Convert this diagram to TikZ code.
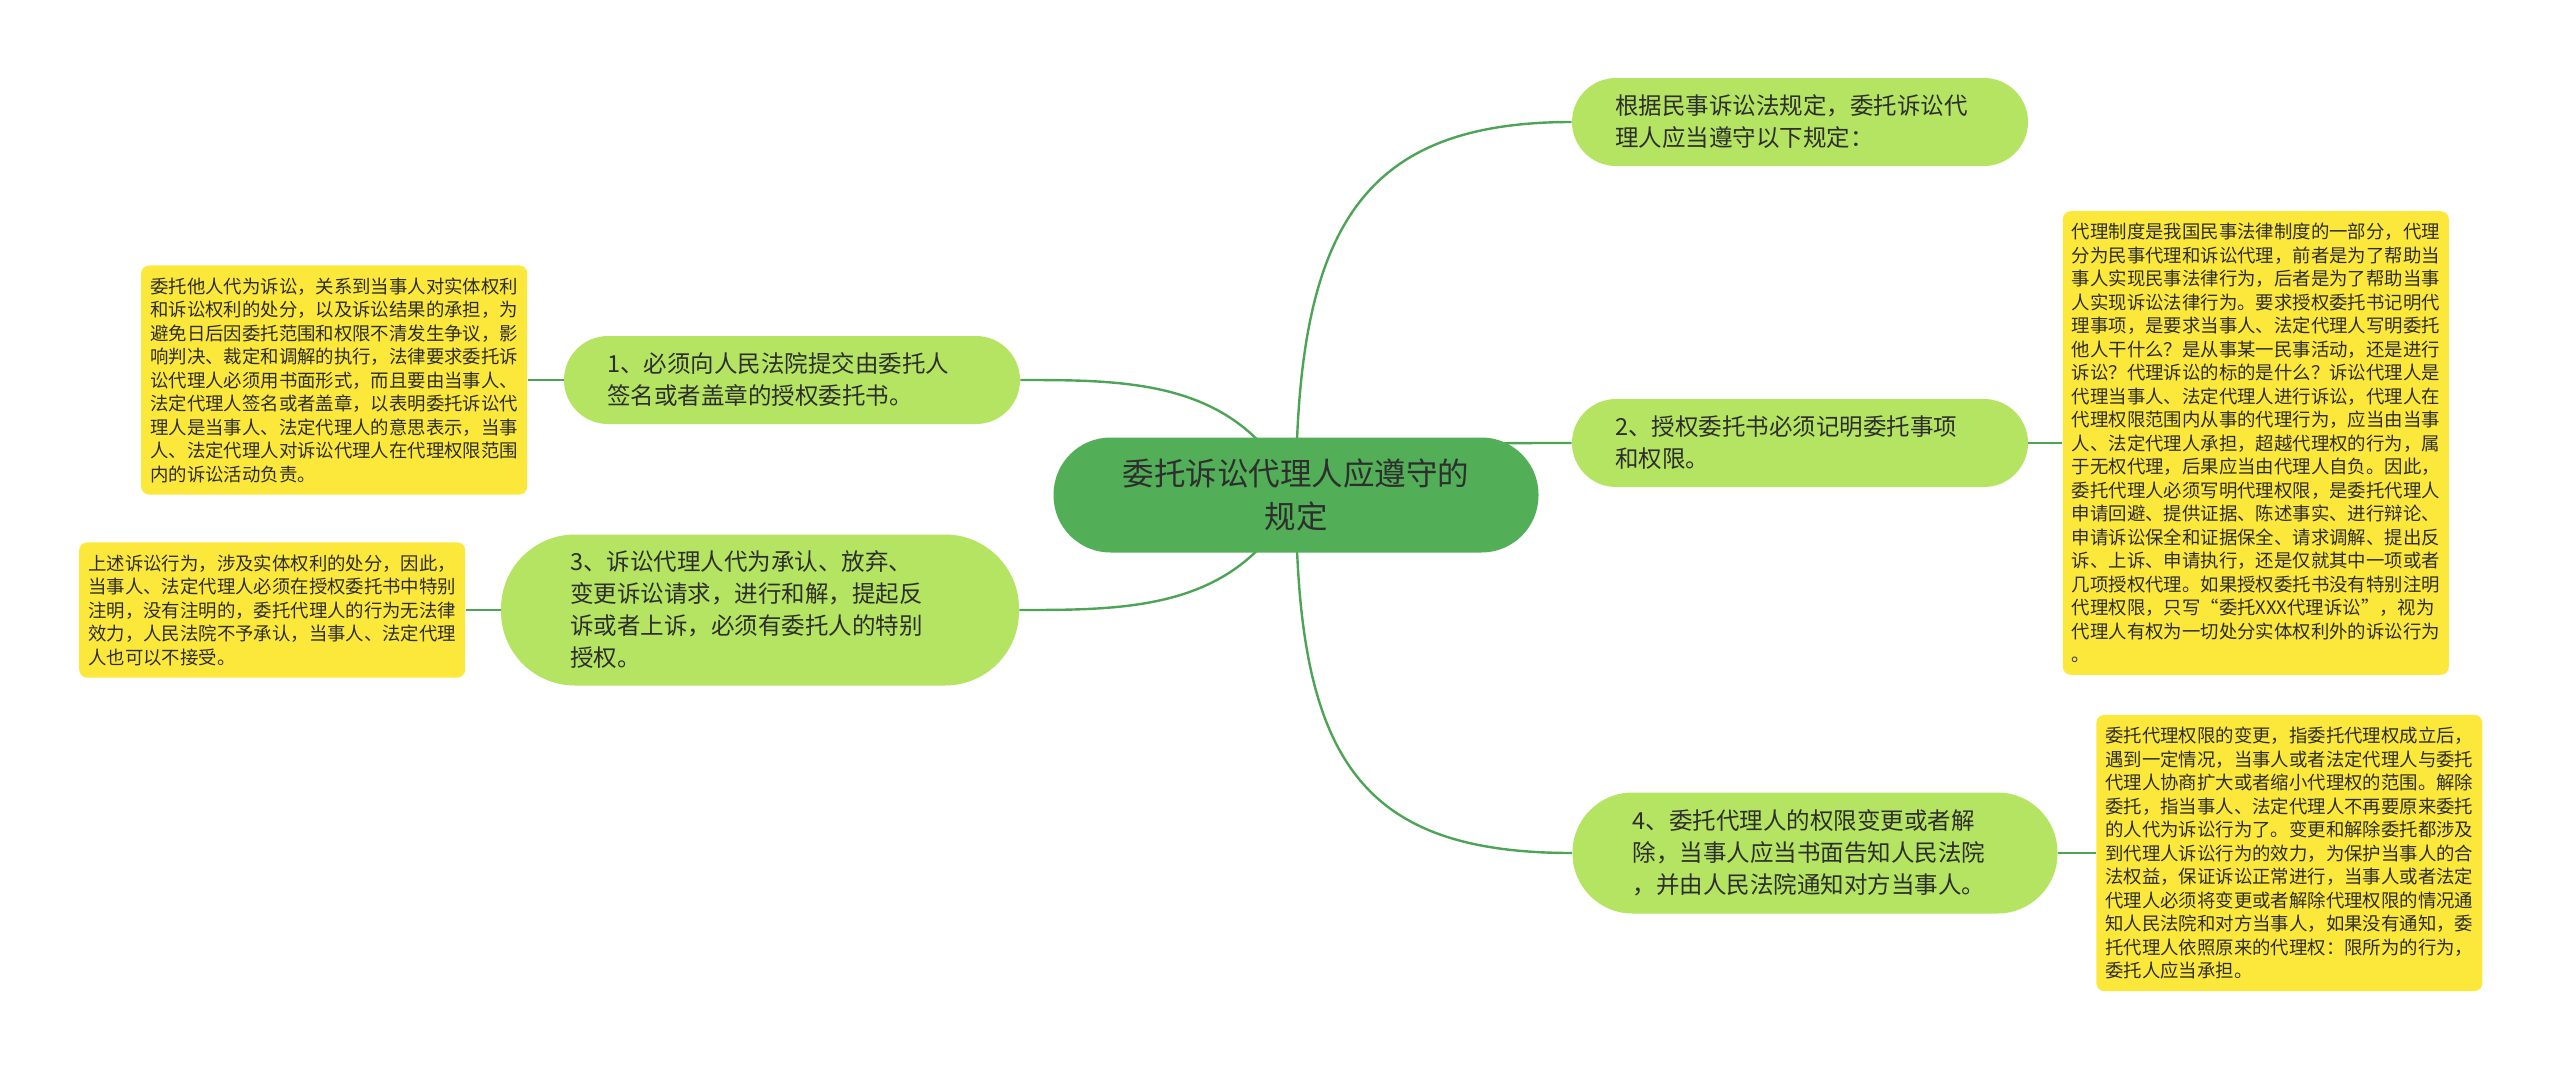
\documentclass[tikz,border=0pt]{standalone}
\usepackage{fontspec}
\setmainfont{Noto Sans CJK SC}
\usetikzlibrary{positioning,backgrounds}
\definecolor{topicgreen}{HTML}{B4E461}
\definecolor{rootgreen}{HTML}{52AE57}
\definecolor{linegreen}{HTML}{4EA456}
\definecolor{notey}{HTML}{FCE83B}
\definecolor{ink}{HTML}{2E2E2E}

\begin{document}
\begin{tikzpicture}[x=0.5pt,y=-0.5pt,
  root/.style={fill=rootgreen,text=ink,align=center,minimum width=242.5pt,minimum height=57.5pt,rounded corners=28.5pt,font=\fontsize{15.75}{21.5}\selectfont},
  topic/.style={fill=topicgreen,text=ink,align=left,text width=185pt,inner xsep=21.5pt,inner ysep=0pt,minimum height=44pt,rounded corners=22pt,font=\fontsize{11.75}{16}\selectfont},
  note/.style={fill=notey,text=ink,align=left,inner xsep=4.5pt,inner ysep=6pt,rounded corners=4pt,font=\fontsize{9.2}{11.75}\selectfont},
  link/.style={draw=linegreen,line width=1.2pt}]
   \useasboundingbox (0,0) rectangle (2560,1072);

   \node[root] (c) at (1296,495) {委托诉讼代理人应遵守的\\规定};
   \node[topic] (a) at (1800,122) {根据民事诉讼法规定，委托诉讼代\\理人应当遵守以下规定：};
   \node[topic] (1) at (792,380) {1、必须向人民法院提交由委托人\\签名或者盖章的授权委托书。};
   \node[topic] (2) at (1800,443) {2、授权委托书必须记明委托事项\\和权限。};
   \node[topic,text width=190pt,inner xsep=34.5pt,minimum height=75.5pt,rounded corners=37pt] (3) at (760,610)
     {3、诉讼代理人代为承认、放弃、\\变更诉讼请求，进行和解，提起反\\诉或者上诉，必须有委托人的特别\\授权。};
   \node[topic,text width=182.5pt,inner xsep=30pt,minimum height=60.5pt,rounded corners=30pt] (4) at (1815,853)
     {4、委托代理人的权限变更或者解\\除，当事人应当书面告知人民法院\\，并由人民法院通知对方当事人。};

   % notes
   \node[note] (1n) [left=18pt of 1] {委托他人代为诉讼，关系到当事人对实体权利\\和诉讼权利的处分，以及诉讼结果的承担，为\\避免日后因委托范围和权限不清发生争议，影\\响判决、裁定和调解的执行，法律要求委托诉\\讼代理人必须用书面形式，而且要由当事人、\\法定代理人签名或者盖章，以表明委托诉讼代\\理人是当事人、法定代理人的意思表示，当事\\人、法定代理人对诉讼代理人在代理权限范围\\内的诉讼活动负责。};
   \node[note] (3n) [left=17.5pt of 3] {上述诉讼行为，涉及实体权利的处分，因此，\\当事人、法定代理人必须在授权委托书中特别\\注明，没有注明的，委托代理人的行为无法律\\效力，人民法院不予承认，当事人、法定代理\\人也可以不接受。};
   \node[note] (2n) [right=17pt of 2] {代理制度是我国民事法律制度的一部分，代理\\分为民事代理和诉讼代理，前者是为了帮助当\\事人实现民事法律行为，后者是为了帮助当事\\人实现诉讼法律行为。要求授权委托书记明代\\理事项，是要求当事人、法定代理人写明委托\\他人干什么？是从事某一民事活动，还是进行\\诉讼？代理诉讼的标的是什么？诉讼代理人是\\代理当事人、法定代理人进行诉讼，代理人在\\代理权限范围内从事的代理行为，应当由当事\\人、法定代理人承担，超越代理权的行为，属\\于无权代理，后果应当由代理人自负。因此，\\委托代理人必须写明代理权限，是委托代理人\\申请回避、提供证据、陈述事实、进行辩论、\\申请诉讼保全和证据保全、请求调解、提出反\\诉、上诉、申请执行，还是仅就其中一项或者\\几项授权代理。如果授权委托书没有特别注明\\代理权限，只写“委托XXX代理诉讼”，视为\\代理人有权为一切处分实体权利外的诉讼行为\\。};
   \node[note] (4n) [right=19pt of 4] {委托代理权限的变更，指委托代理权成立后，\\遇到一定情况，当事人或者法定代理人与委托\\代理人协商扩大或者缩小代理权的范围。解除\\委托，指当事人、法定代理人不再要原来委托\\的人代为诉讼行为了。变更和解除委托都涉及\\到代理人诉讼行为的效力，为保护当事人的合\\法权益，保证诉讼正常进行，当事人或者法定\\代理人必须将变更或者解除代理权限的情况通\\知人民法院和对方当事人，如果没有通知，委\\托代理人依照原来的代理权：限所为的行为，\\委托人应当承担。};

   \begin{scope}[on background layer]
    \path[link]
    (c.center) .. controls +(0,-265) and +(-212,0) .. (a.west)
    (c.center) .. controls +(60,-52) and +(-150,0) .. (2.west)
    (c.center) .. controls +(0,265) and +(-212,0) .. (4.west)
    (c.center) .. controls +(-56,-115) and +(111,0) .. (1.east)
    (c.center) .. controls +(-56,115) and +(111,0) .. (3.east);
   \end{scope}
    \path[link]
    (1.west) -- (1n.east)
    (3.west) -- (3n.east)
    (2.east) -- (2n.west)
    (4.east) -- (4n.west);
\end{tikzpicture}
\end{document}
